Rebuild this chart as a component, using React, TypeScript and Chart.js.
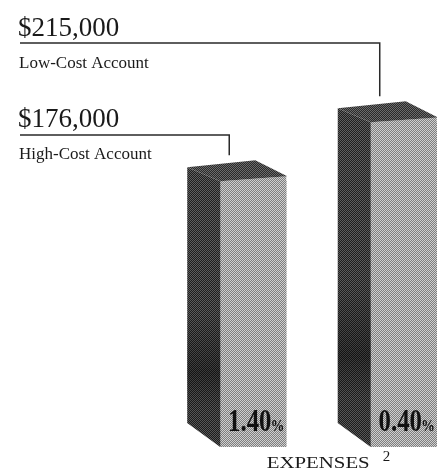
import React, { useEffect, useRef } from "react";
import { Chart, registerables } from "chart.js";

Chart.register(...registerables);

const categories = ["High-Cost Account", "Low-Cost Account"];
const balances = [176000, 215000];
const expenseRatios = [1.4, 0.4];
const axisTitle = "EXPENSES";
const axisFootnote = "2";

const SERIF = '"Liberation Serif", "Times New Roman", serif';

function makePattern(ctx: CanvasRenderingContext2D, light: string, dark: string) {
  const c = document.createElement("canvas");
  c.width = 2;
  c.height = 2;
  const g = c.getContext("2d")!;
  g.fillStyle = light;
  g.fillRect(0, 0, 2, 2);
  g.fillStyle = dark;
  g.fillRect(1, 0, 1, 1);
  g.fillRect(0, 1, 1, 1);
  return ctx.createPattern(c, "repeat")!;
}

export default function App() {
  const ref = useRef<HTMLCanvasElement>(null);

  useEffect(() => {
    const canvas = ref.current!;
    const ctx0 = canvas.getContext("2d")!;
    const frontPattern = makePattern(ctx0, "#cfcfcf", "#7e7e7e");
    const sidePattern = makePattern(ctx0, "#606060", "#1f1f1f");
    const topPattern = makePattern(ctx0, "#6c6c6c", "#2a2a2a");

    const labelLayout = [
      { valueBaseline: 127, lineY: 135, nameBaseline: 159 },
      { valueBaseline: 36, lineY: 43, nameBaseline: 68 },
    ];

    const bgPlugin = {
      id: "bg",
      beforeDraw(chart: any) {
        const c = chart.ctx;
        c.save();
        c.fillStyle = "#ffffff";
        c.fillRect(0, 0, chart.width, chart.height);
        c.restore();
      },
    };

    const threeD = {
      id: "threeD",
      afterDatasetsDraw(chart: any) {
        const c: CanvasRenderingContext2D = chart.ctx;
        const meta = chart.getDatasetMeta(0);
        meta.data.forEach((bar: any) => {
          const { x, y, width, base } = bar.getProps(["x", "y", "width", "base"], true);
          const L = x - width / 2;
          const R = x + width / 2;
          const top = y;
          c.save();
          c.beginPath();
          c.moveTo(L - 33, top - 14);
          c.lineTo(L, top);
          c.lineTo(L, base);
          c.lineTo(L - 33, base - 24);
          c.closePath();
          c.fillStyle = sidePattern;
          c.fill();
          const grad = c.createLinearGradient(0, top, 0, base);
          grad.addColorStop(0, "rgba(0,0,0,0)");
          grad.addColorStop(0.5, "rgba(0,0,0,0.05)");
          grad.addColorStop(0.72, "rgba(0,0,0,0.4)");
          grad.addColorStop(0.85, "rgba(0,0,0,0.12)");
          grad.addColorStop(1, "rgba(0,0,0,0.08)");
          c.fillStyle = grad;
          c.fill();
          c.beginPath();
          c.moveTo(L, top);
          c.lineTo(R, top - 5);
          c.lineTo(R, top + 1);
          c.lineTo(L, top + 1);
          c.closePath();
          c.fillStyle = frontPattern;
          c.fill();
          c.beginPath();
          c.moveTo(L - 33, top - 14);
          c.lineTo(L + 35, top - 21);
          c.lineTo(R + 1, top - 5);
          c.lineTo(L, top);
          c.closePath();
          c.fillStyle = topPattern;
          c.fill();
          c.restore();
        });
      },
      afterDraw(chart: any) {
        const c: CanvasRenderingContext2D = chart.ctx;
        const meta = chart.getDatasetMeta(0);
        c.save();
        const centers: number[] = [];
        meta.data.forEach((bar: any, i: number) => {
          const { x, y, width, base } = bar.getProps(["x", "y", "width", "base"], true);
          centers.push(x);
          const L = x - width / 2;
          const R = x + width / 2;
          const lay = labelLayout[i];
          c.fillStyle = "#1a1a1a";
          c.textAlign = "left";
          c.textBaseline = "alphabetic";
          c.font = `27px ${SERIF}`;
          c.fillText("$" + balances[i].toLocaleString("en-US"), 18, lay.valueBaseline);
          c.font = `17px ${SERIF}`;
          c.fillText(categories[i], 19, lay.nameBaseline);
          c.strokeStyle = "#2a2a2a";
          c.lineWidth = 1.5;
          c.beginPath();
          c.moveTo(20, lay.lineY);
          c.lineTo(L + 9, lay.lineY);
          c.lineTo(L + 9, y - 26);
          c.stroke();
          const numTxt = expenseRatios[i].toFixed(2);
          c.save();
          c.translate(R - 2, base - 16);
          c.scale(0.8, 1);
          c.textAlign = "right";
          c.font = `bold 17px ${SERIF}`;
          const pw = c.measureText("%").width;
          c.fillStyle = "#111";
          c.fillText("%", 0, 0);
          c.font = `bold 31px ${SERIF}`;
          c.fillText(numTxt, -pw + 1, 0);
          c.restore();
        });
        const cx = (centers[0] + centers[1]) / 2;
        c.fillStyle = "#1a1a1a";
        c.textAlign = "left";
        c.font = `16px ${SERIF}`;
        const tw = c.measureText(axisTitle).width * 1.3;
        c.font = `15px ${SERIF}`;
        const sw = c.measureText(axisFootnote).width;
        const total = tw + 13 + sw;
        const startX = cx - total / 2;
        c.save();
        c.translate(startX, 468);
        c.scale(1.3, 1);
        c.font = `16px ${SERIF}`;
        c.fillText(axisTitle, 0, 0);
        c.restore();
        c.font = `15px ${SERIF}`;
        c.fillText(axisFootnote, startX + tw + 13, 461);
        c.restore();
      },
    };

    const chart = new Chart(canvas, {
      type: "bar",
      data: {
        datasets: [
          {
            data: categories.map((_, i) => ({ x: i, y: balances[i] })),
            backgroundColor: frontPattern as any,
            borderWidth: 0,
            barThickness: 66,
          },
        ],
      },
      options: {
        responsive: false,
        animation: false,
        layout: { padding: { left: 0, right: 0, top: 0, bottom: 29 } },
        plugins: { legend: { display: false }, tooltip: { enabled: false } },
        scales: {
          x: { type: "linear", display: false, min: -1.6827, max: 1.221, offset: false, grid: { display: false } },
          y: { display: false, min: 0, max: 296000, grid: { display: false } },
        },
      },
      plugins: [bgPlugin, threeD],
    });
    return () => chart.destroy();
  }, []);

  return (
    <div style={{ position: "absolute", left: 0, top: 0, width: 437, height: 476 }}>
      <canvas ref={ref} width={437} height={476} style={{ display: "block" }} />
    </div>
  );
}
